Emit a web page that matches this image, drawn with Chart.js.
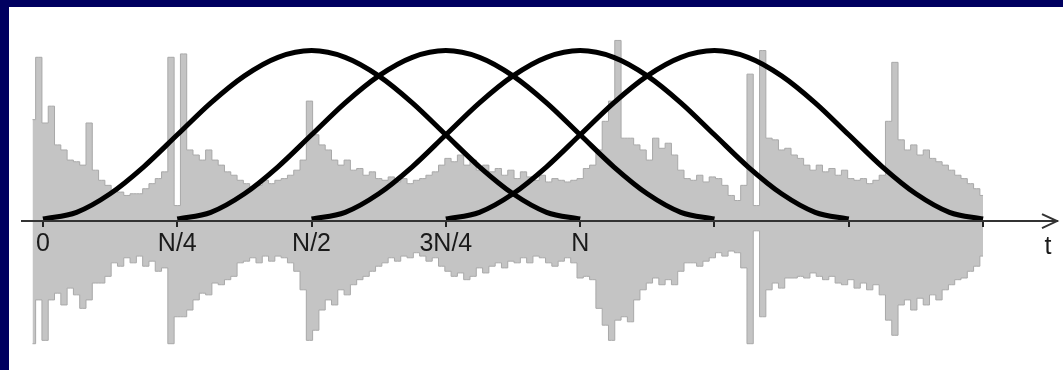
<!DOCTYPE html>
<html>
<head>
<meta charset="utf-8">
<script src="https://cdn.jsdelivr.net/npm/chart.js@4.4.1/dist/chart.umd.min.js"></script>
<style>
  html, body { margin: 0; padding: 0; background: #fff; }
  #wrap { position: relative; width: 1063px; height: 370px; background: #fff; overflow: hidden; }
  .band { position: absolute; background: #000060; }
  canvas { position: absolute; left: 0; top: 0; }
</style>
</head>
<body>
<div id="wrap">
  <div class="band" style="left:0;top:0;width:1063px;height:7px"></div>
  <div class="band" style="left:0;top:0;width:9px;height:370px"></div>
  <canvas id="c" width="1063" height="370"></canvas>
</div>
<script>
// ---- data ----
const N = 1024;                       // window length in samples
const tickLabels = ['0', 'N/4', 'N/2', '3N/4', 'N', '', '', ''];
const tickStep = 256;                 // N/4
const axisLabel = 't';

// Hann-shaped window, at every N/16
const windowShape = [0, 0.04, 0.15, 0.31, 0.5, 0.69, 0.85, 0.96, 1, 0.96, 0.85, 0.69, 0.5, 0.31, 0.15, 0.04, 0];
const windowStarts = [0, 256, 512, 768];

// signal envelope (max / min per block of 12 samples), first block at sample -20
const waveStart = -20;
const waveStep = 12;
const waveTop = [0.59,0.96,0.57,0.67,0.44,0.41,0.35,0.34,0.32,0.57,
0.29,0.23,0.20,0.17,0.16,0.14,0.15,0.15,0.18,0.21,
0.24,0.28,0.96,0.08,0.98,0.41,0.38,0.35,0.41,0.35,
0.32,0.28,0.26,0.23,0.21,0.19,0.20,0.23,0.21,0.23,
0.24,0.26,0.29,0.35,0.70,0.50,0.44,0.41,0.35,0.32,
0.35,0.29,0.30,0.26,0.28,0.24,0.23,0.25,0.22,0.24,
0.21,0.23,0.24,0.26,0.28,0.32,0.36,0.34,0.38,0.32,
0.35,0.29,0.32,0.28,0.30,0.26,0.29,0.24,0.28,0.25,
0.23,0.26,0.22,0.24,0.23,0.22,0.23,0.24,0.30,0.32,
0.41,0.58,0.70,1.06,0.48,0.48,0.44,0.41,0.35,0.48,
0.42,0.45,0.38,0.29,0.24,0.23,0.26,0.22,0.25,0.24,
0.20,0.14,0.11,0.20,0.86,0.08,1.00,0.48,0.47,0.41,
0.42,0.38,0.36,0.32,0.29,0.32,0.28,0.30,0.26,0.29,
0.24,0.23,0.24,0.21,0.23,0.26,0.58,0.93,0.47,0.41,
0.44,0.38,0.41,0.36,0.34,0.32,0.29,0.26,0.24,0.21,
0.18,0.14];
const waveBottom = [-0.74,-0.48,-0.72,-0.48,-0.44,-0.51,-0.41,-0.45,-0.53,-0.48,
-0.38,-0.38,-0.34,-0.26,-0.28,-0.23,-0.26,-0.22,-0.28,-0.25,
-0.31,-0.29,-0.74,-0.58,-0.58,-0.54,-0.48,-0.44,-0.45,-0.38,
-0.39,-0.36,-0.34,-0.26,-0.25,-0.23,-0.26,-0.22,-0.25,-0.22,
-0.23,-0.26,-0.31,-0.42,-0.72,-0.66,-0.54,-0.48,-0.51,-0.42,
-0.45,-0.39,-0.36,-0.34,-0.31,-0.28,-0.26,-0.23,-0.25,-0.22,
-0.23,-0.20,-0.22,-0.25,-0.23,-0.28,-0.31,-0.34,-0.32,-0.36,
-0.34,-0.29,-0.32,-0.28,-0.26,-0.29,-0.25,-0.26,-0.23,-0.26,
-0.22,-0.23,-0.26,-0.28,-0.25,-0.23,-0.26,-0.35,-0.34,-0.36,
-0.53,-0.63,-0.72,-0.60,-0.58,-0.61,-0.48,-0.42,-0.38,-0.35,
-0.39,-0.36,-0.39,-0.31,-0.26,-0.26,-0.28,-0.25,-0.23,-0.20,
-0.22,-0.19,-0.20,-0.29,-0.74,-0.07,-0.58,-0.42,-0.38,-0.41,
-0.35,-0.35,-0.34,-0.35,-0.32,-0.34,-0.36,-0.34,-0.38,-0.39,
-0.36,-0.41,-0.38,-0.42,-0.39,-0.45,-0.60,-0.69,-0.51,-0.48,
-0.54,-0.47,-0.51,-0.45,-0.48,-0.42,-0.39,-0.36,-0.35,-0.31,
-0.28,-0.22];

// ---- build datasets ----
const toPoints = arr => arr.map((v, i) => ({ x: waveStart + i * waveStep, y: v }));
const waveStyle = {
  type: 'line', stepped: 'middle', pointRadius: 0, borderWidth: 1,
  borderColor: '#a9a9a9', backgroundColor: '#c4c4c4', fill: 'origin', order: 2
};
const datasets = [
  Object.assign({ label: 'signal+', data: toPoints(waveTop) }, waveStyle),
  Object.assign({ label: 'signal-', data: toPoints(waveBottom) }, waveStyle)
];
const segLen = N / (windowShape.length - 1);
windowStarts.forEach((s, w) => {
  datasets.push({
    type: 'line', label: 'window ' + (w + 1),
    data: windowShape.map((v, k) => ({ x: s + k * segLen, y: v })),
    borderColor: '#000', borderWidth: 5, pointRadius: 0, fill: false,
    cubicInterpolationMode: 'monotone', order: 0
  });
});

const FONT = "'Liberation Sans', Arial, sans-serif";

const arrowPlugin = {
  id: 'arrow',
  afterDraw(chart) {
    const ctx = chart.ctx;
    const yPix = chart.scales.y.getPixelForValue(-0.012);
    const r = chart.chartArea.right;
    ctx.save();
    ctx.strokeStyle = '#333';
    ctx.lineWidth = 2;
    ctx.beginPath();
    ctx.moveTo(r - 15, yPix - 7);
    ctx.lineTo(r, yPix);
    ctx.lineTo(r - 15, yPix + 7);
    ctx.stroke();
    ctx.fillStyle = '#1a1a1a';
    ctx.font = '25px ' + FONT;
    ctx.textAlign = 'center';
    ctx.textBaseline = 'alphabetic';
    ctx.fillText(axisLabel, r - 9, yPix + 33);
    ctx.restore();
  }
};

new Chart(document.getElementById('c'), {
  type: 'line',
  data: { datasets },
  options: {
    responsive: false,
    animation: false,
    events: [],
    layout: { padding: { left: 22, right: 6, top: 0, bottom: 0 } },
    plugins: { legend: { display: false }, tooltip: { enabled: false } },
    scales: {
      x: {
        type: 'linear',
        min: -40, max: 1933,
        position: { y: -0.012 },
        grid: { z: 1, drawOnChartArea: false, drawTicks: true, tickLength: 5, color: '#222', lineWidth: 2 },
        border: { z: 1, display: true, color: '#333', width: 2 },
        ticks: {
          z: 1,
          stepSize: tickStep, includeBounds: false, autoSkip: false, maxRotation: 0,
          padding: 3, color: '#1a1a1a', font: { family: FONT, size: 25 },
          callback: v => tickLabels[Math.round(v / tickStep)] ?? ''
        }
      },
      y: { type: 'linear', display: false, min: -0.896, max: 1.30 }
    }
  },
  plugins: [arrowPlugin]
});
</script>
</body>
</html>
